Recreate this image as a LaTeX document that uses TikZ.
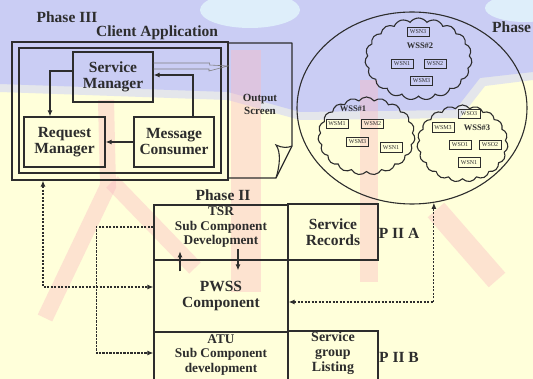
\documentclass[tikz,border=0pt]{standalone}
\usepackage{fontspec}
\setmainfont{Liberation Serif}
\usetikzlibrary{arrows.meta,shapes.geometric,shapes.symbols,calc}
\definecolor{ink}{RGB}{45,45,45}
\definecolor{cream}{RGB}{255,255,218}
\definecolor{lav}{RGB}{202,205,244}
\definecolor{lavmix}{RGB}{228,230,235}
\definecolor{skyc}{RGB}{222,238,250}
\definecolor{wpink}{RGB}{250,185,195}
\tikzset{
  bx/.style={draw=ink, line width=1.3pt, inner sep=0pt, align=center, text=ink},
  txt/.style={inner sep=0pt, align=center, text=ink},
  big/.style={font=\bfseries\fontsize{15.5}{16}\selectfont},
  mid/.style={font=\bfseries\fontsize{13.3}{14.5}\selectfont},
  sbox/.style={draw=ink, line width=1pt, inner sep=0pt, minimum width=22pt, minimum height=9.5pt, font=\fontsize{6}{6}\selectfont, text=ink},
  cl/.style={cloud, draw=ink, line width=1.1pt, cloud puffs=19, cloud puff arc=110, cloud ignores aspect, inner sep=0pt},
  arr/.style={draw=ink, line width=1.1pt, -{Latex[length=6pt,width=5pt]}},
  darr/.style={draw=ink, line width=1.1pt, dash pattern=on 2.2pt off 1.3pt},
  wm/.style={wpink, line width=16pt, opacity=0.4}
}
\begin{document}
\begin{tikzpicture}[x=1pt,y=-1pt]
\useasboundingbox (0,0) rectangle (533,379);
% background
\fill[cream] (0,0) rectangle (533,379);
\fill[lavmix] (0,0) -- (533,0) -- (533,80) -- (485,86) -- (460,118) -- (300,120) -- (228,100) -- (0,92) -- cycle;
\fill[lav] (0,0) -- (533,0) -- (533,72) -- (480,78) -- (455,110) -- (300,112) -- (228,92) -- (0,84) -- cycle;
\fill[skyc] (250,10) ellipse (50 and 18);
\fill[skyc] (525,8) ellipse (40 and 14);
% watermark
\draw[wm] (45,318) -- (108,186) -- (106,100);
\draw[wm] (112,182) -- (195,268);
\draw[wm, line width=30pt] (246,50) -- (246,292);
\draw[wm, line width=18pt] (369,80) -- (369,282);
\draw[wm, line width=22pt] (436,210) -- (497,280);
% Phase III
\node[txt, big] (ph3) at (67,17) {Phase III};
\node[txt, big] (ca) at (157,33) {Client Application};
\node[bx, minimum width=216pt, minimum height=138pt] (p3o) at (120,111) {};
\node[bx, minimum width=202pt, minimum height=125pt] (p3i) at (120,110.5) {};
\node[bx, big, minimum width=80pt, minimum height=50pt] (sm) at (113,77) {Service\\Manager};
\node[bx, big, minimum width=81pt, minimum height=50pt] (rm) at (64.5,142) {Request\\Manager};
\node[bx, big, minimum width=80pt, minimum height=50pt] (mc) at (174,142) {Message\\Consumer};
\draw[arr] ([yshift=6pt]sm.west) -| ([xshift=-14.5pt]rm.north);
\draw[arr] ([xshift=19pt]mc.north) |- ([yshift=2pt]sm.east);
\draw[arr] (mc.west) -- (rm.east);
% output screen
\coordinate (os) at (228,66);
\draw[ink, line width=1.3pt, line join=round] (228,43) -- (292,43) -- (292,146) -- (276,178) -- (228,178) -- cycle;
\draw[ink, line width=1.1pt] (276,178) .. controls (280,165) and (281,152) .. (276,145) .. controls (282,148) and (288,148) .. (292,146);
\node[txt, font=\bfseries\fontsize{11}{13}\selectfont] (ost) at (260,104.5) {Output\\Screen};
\draw[gray, line width=0.6pt] ([yshift=3pt]sm.east |- os) -- ++(56,0) -- ++(0,2) -- (os) -- ++(-19,5) -- ++(0,-2) -- ([yshift=-3pt]sm.east |- os);
% Phase I ellipse
\node[txt, big, anchor=west] (ph1t) at (492,27) {Phase};
\node[ellipse, draw=ink, line width=1.1pt, minimum width=230pt, minimum height=192pt, inner sep=0pt] (ph) at (412,108) {};
\node[cl, minimum width=107pt, minimum height=82pt] (c2) at (418.5,59) {};
\node[cl, minimum width=97pt, minimum height=78pt] (c1) at (366.5,136) {};
\node[cl, minimum width=91pt, minimum height=77pt] (c3) at (462.5,143.5) {};
\node[sbox] (a1) at (418,32) {WSN3};
\node[txt, font=\bfseries\fontsize{8.5}{9}\selectfont] (l2) at (420,46) {WSS\#2};
\node[sbox] (a2) at (402,64) {WSN1};
\node[sbox] (a3) at (435,64) {WSN2};
\node[sbox] (a4) at (421.5,81) {WSM3};
\node[txt, font=\bfseries\fontsize{8.5}{9}\selectfont] (l1) at (353,109) {WSS\#1};
\node[sbox] (b1) at (337,124) {WSM1};
\node[sbox] (b2) at (372.5,124) {WSM2};
\node[sbox] (b3) at (357.5,142) {WSM3};
\node[sbox] (b4) at (391,147.5) {WSN1};
\node[sbox] (d1) at (469,114) {WSO3};
\node[sbox] (d2) at (443,127.5) {WSM3};
\node[txt, font=\bfseries\fontsize{8.5}{9}\selectfont] (l3) at (477,128) {WSS\#3};
\node[sbox] (d3) at (460,145) {WSO1};
\node[sbox] (d4) at (490,145) {WSO2};
\node[sbox] (d5) at (469,162.5) {WSN1};
% Phase II
\node[txt, big] (ph2) at (223,195) {Phase II};
\node[bx, minimum width=134pt, minimum height=55pt] (tsr) at (221,232.5) {};
\node[txt, mid] (tsrt) at (221,227.5) {TSR\\Sub Component\\Development};
\node[bx, big, minimum width=134pt, minimum height=72pt] (pwss) at (221,296) {PWSS\\Component};
\node[bx, minimum width=134pt, minimum height=49pt] (atu) at (221,356.5) {};
\node[txt, mid] (atut) at (221,355) {ATU\\Sub Component\\development};
\node[bx, big, minimum width=90pt, minimum height=56pt] (sr) at (333,232) {Service\\Records};
\node[bx, minimum width=90pt, minimum height=50pt] (sg) at (333,356) {};
\node[txt, font=\bfseries\fontsize{14}{15}\selectfont] (sgt) at (333,353) {Service\\group\\Listing};
\node[txt, big] (pa) at (399,233) {P II A};
\node[txt, big] (pb) at (399,357) {P II B};
\draw[arr] ([xshift=-41pt,yshift=-12pt]pwss.north) -- ([xshift=-41pt,yshift=8pt]pwss.north);
\draw[arr] ([xshift=17pt,yshift=10pt]pwss.north) -- ([xshift=17pt,yshift=-11pt]pwss.north);
% dotted connectors
\draw[darr, {Latex[length=6pt,width=5pt]}-{Latex[length=6pt,width=5pt]}] ([xshift=-77pt]p3o.south) |- ([yshift=9pt]pwss.west);
\draw[darr, -{Latex[length=6pt,width=5pt]}] ([yshift=5.5pt]tsr.west) -- ++(-57,0) |- ([yshift=3.5pt]atu.west);
\draw[darr, {Latex[length=6pt,width=5pt]}-{Latex[length=6pt,width=5pt]}] ([yshift=-6pt]pwss.east) -| (ph.-77);
\end{tikzpicture}
\end{document}
